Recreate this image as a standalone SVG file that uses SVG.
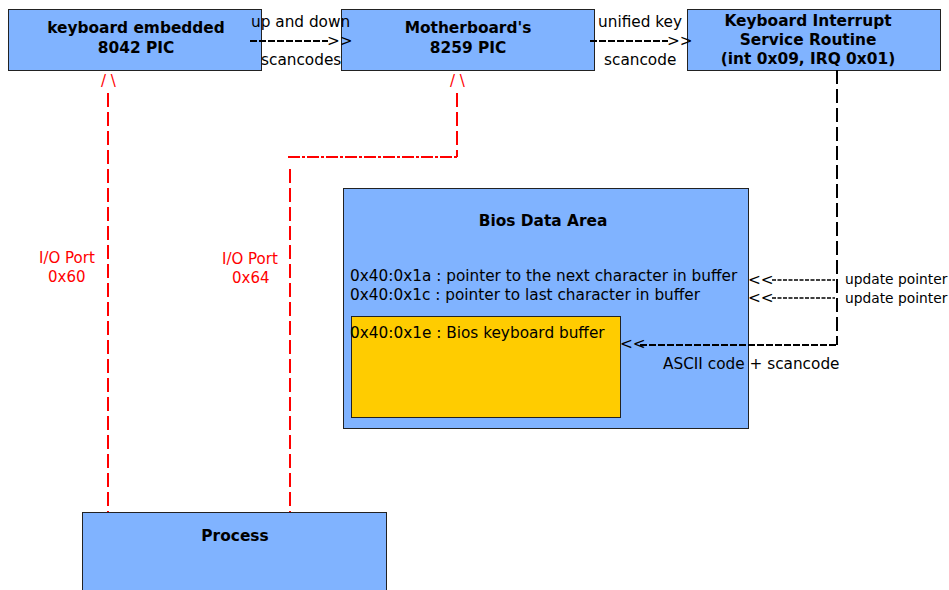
<svg xmlns="http://www.w3.org/2000/svg" width="949" height="590" viewBox="0 0 949 590">
<style>
.box{fill:#80b3ff;stroke:#222;stroke-width:1}
.buf{fill:#ffcc00;stroke:#222;stroke-width:1}
text{font-family:"DejaVu Sans",sans-serif;font-size:15.3px;fill:#000}
.b{font-weight:bold;text-anchor:middle;font-size:15.4px}
.r{fill:#ff0000;font-size:15px}
.red{stroke:#ff0000;stroke-width:2;fill:none;stroke-dasharray:14,5}
.redh{stroke:#ff0000;stroke-width:2;fill:none;stroke-dasharray:12,2,3,2}
.blk{stroke:#000;stroke-width:2;fill:none;stroke-dasharray:7,2}
.blkv{stroke:#000;stroke-width:2;fill:none;stroke-dasharray:14,5}
.blkt{stroke:#000;stroke-width:1.5;fill:none;stroke-dasharray:4,1.5}
.sm{font-size:13.8px}
</style>
<rect width="949" height="590" fill="#fff"/>
<g id="kbd8042"><rect class="box" x="8.5" y="9.5" width="253" height="61"/><text class="b" x="136" y="33">keyboard embedded</text><text class="b" x="136" y="53">8042 PIC</text></g>
<g id="pic8259"><rect class="box" x="341.5" y="9.5" width="253" height="61"/><text class="b" x="468" y="33">Motherboard's</text><text class="b" x="468" y="53">8259 PIC</text></g>
<g id="isr"><rect class="box" x="687.5" y="9.5" width="253" height="61"/><text class="b" x="808" y="26">Keyboard Interrupt</text><text class="b" x="808" y="45">Service Routine</text><text class="b" x="808" y="64">(int 0x09, IRQ 0x01)</text></g>
<g id="bda"><rect class="box" x="343.5" y="188.5" width="405" height="240"/><text class="b" x="543" y="226">Bios Data Area</text><text x="350" y="281">0x40:0x1a : pointer to the next character in buffer</text><text x="350" y="300">0x40:0x1c : pointer to last character in buffer</text></g>
<g id="buffer"><rect class="buf" x="351.5" y="316.5" width="269" height="101"/><text x="350" y="338">0x40:0x1e : Bios keyboard buffer</text></g>
<g id="process"><rect class="box" x="82.5" y="512.5" width="304" height="90"/><text class="b" x="235" y="541">Process</text></g>
<g id="connectors">
<path class="blk" d="M250,41 H328"/><text x="327" y="46">&gt;&gt;</text>
<text x="251" y="27">up and down</text><text x="261" y="65">scancodes</text>
<path class="blk" d="M590,41 H668"/><text x="667" y="46">&gt;&gt;</text>
<text x="598" y="27">unified key</text><text x="604" y="65">scancode</text>
<path class="blkv" d="M837,70 V345"/>
<path class="blk" d="M640,345 H837"/><text x="620" y="349">&lt;&lt;</text>
<text x="663" y="369">ASCII code + scancode</text>
<path class="blkt" d="M772,280 H835"/><text x="748" y="285">&lt;&lt;</text>
<path class="blkt" d="M772,298 H835"/><text x="748" y="303">&lt;&lt;</text>
<text class="sm" x="845" y="284">update pointer</text><text class="sm" x="845" y="303">update pointer</text>
<text class="r" x="101" y="86">/ \</text>
<path class="red" d="M108,93 V512"/>
<text class="r" x="450" y="86">/ \</text>
<path class="red" d="M457,93 V157"/>
<path class="redh" d="M288,157 H459"/>
<path class="red" d="M290,169 V512"/>
<text class="r" x="39" y="263">I/O Port</text><text class="r" x="48" y="282">0x60</text>
<text class="r" x="222" y="264">I/O Port</text><text class="r" x="232" y="283">0x64</text>
</g>
</svg>
